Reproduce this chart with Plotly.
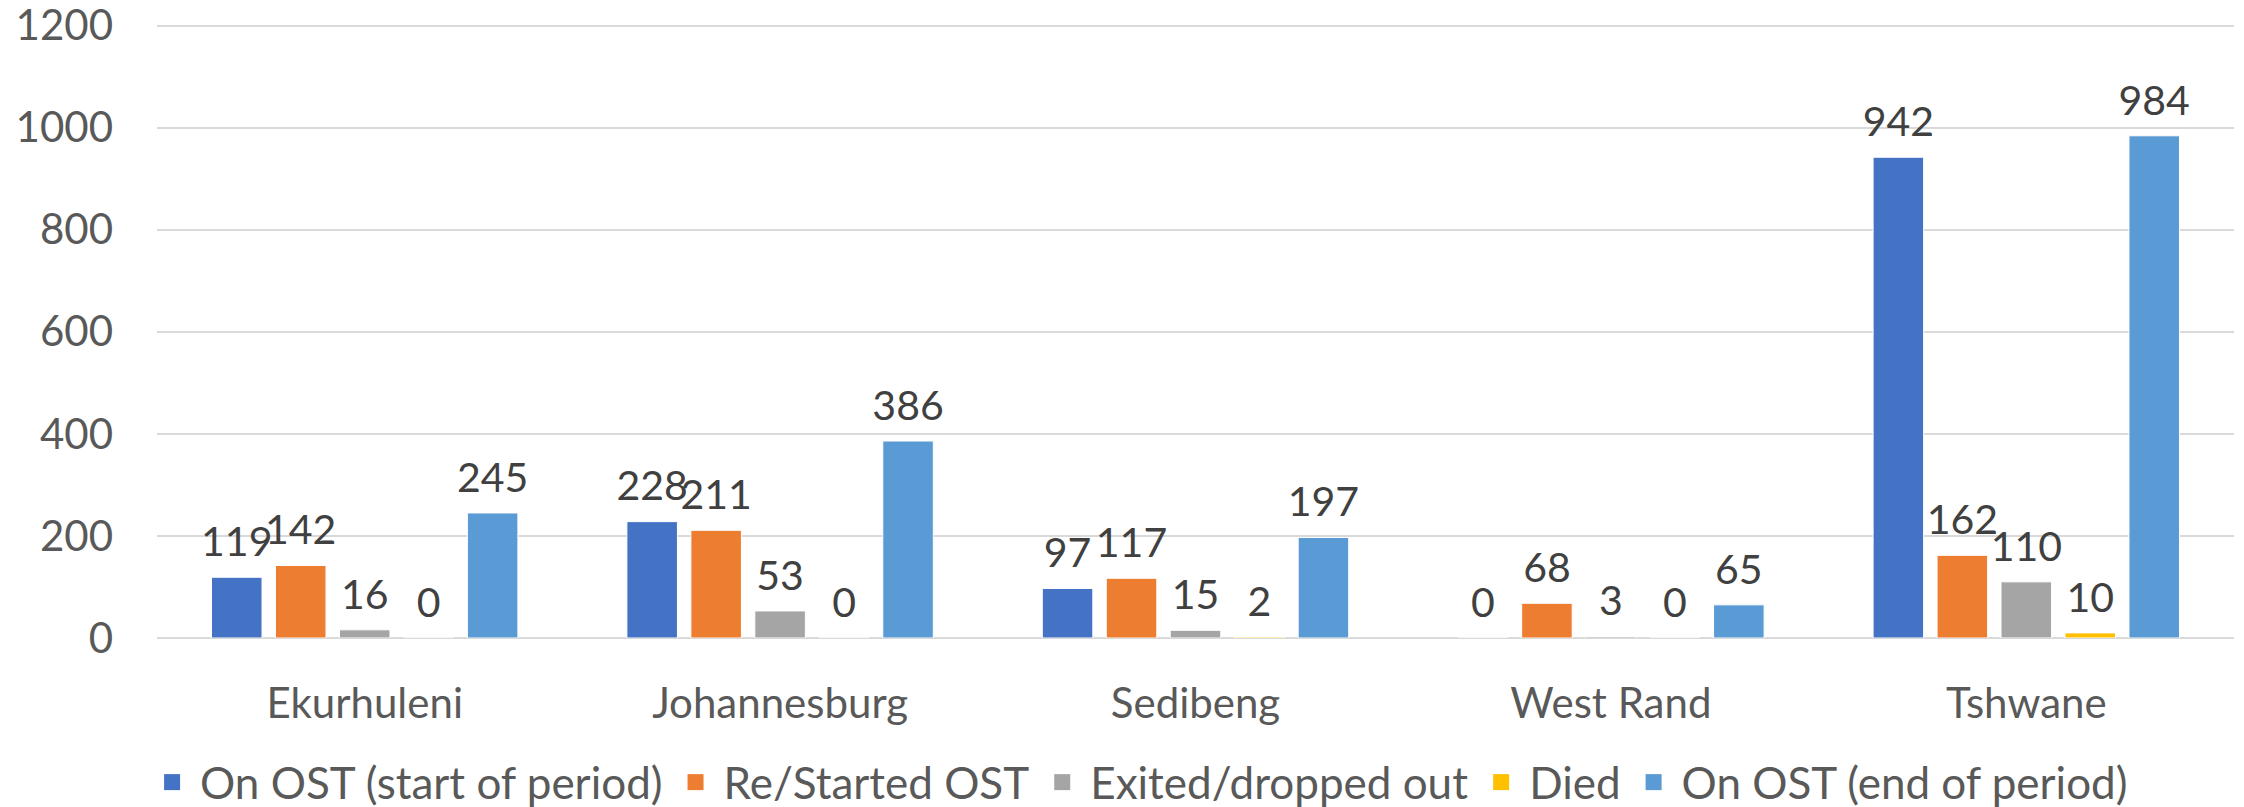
import plotly.graph_objects as go

# districts on the x axis
districts = ['Ekurhuleni', 'Johannesburg', 'Sedibeng', 'West Rand', 'Tshwane']

# one list per series
on_ost_start = [119, 228, 97, 0, 942]
restarted_ost = [142, 211, 117, 68, 162]
exited = [16, 53, 15, 3, 110]
died = [0, 0, 2, 0, 10]
on_ost_end = [245, 386, 197, 65, 984]

series_names = [
    'On OST (start of period)',
    'Re/Started OST',
    'Exited/dropped out',
    'Died',
    'On OST (end of period)',
]
series_values = [on_ost_start, restarted_ost, exited, died, on_ost_end]
colours = ['#4472C4', '#ED7D31', '#A5A5A5', '#FFC000', '#5B9BD5']

y_ticks = [0, 200, 400, 600, 800, 1000, 1200]

FONT = 'Lato'
BAR_GAP = 0.23

fig = go.Figure()

for i, (name, vals, col) in enumerate(zip(series_names, series_values, colours)):
    fig.add_trace(
        go.Bar(
            x=districts,
            y=vals,
            name=name,
            marker=dict(color=col, line=dict(color='white', width=1)),
            offsetgroup=str(i),
            alignmentgroup='bars',
            showlegend=False,
        )
    )

# data labels sit above the bars, grouped the same way as the bars
for i, vals in enumerate(series_values):
    fig.add_trace(
        go.Scatter(
            x=districts,
            y=vals,
            mode='markers+text',
            text=[str(v) for v in vals],
            textposition='top center',
            textfont=dict(family=FONT, size=41, color='#404040'),
            marker=dict(size=16, color='rgba(0,0,0,0)'),
            offsetgroup=str(i),
            alignmentgroup='labels',
            cliponaxis=False,
            showlegend=False,
            hoverinfo='skip',
        )
    )

# legend entries with bigger square swatches
for name, col in zip(series_names, colours):
    fig.add_trace(
        go.Scatter(
            x=[None],
            y=[None],
            mode='markers',
            name=name,
            marker=dict(symbol='square', size=16, color=col),
        )
    )

# the page body adds an 8px offset, so the margins are shifted to match
fig.update_layout(
    width=2244,
    height=807,
    margin=dict(l=149, r=18, t=15, b=177, autoexpand=False),
    paper_bgcolor='white',
    plot_bgcolor='white',
    barmode='group',
    bargap=BAR_GAP,
    bargroupgap=0.21,
    scattermode='group',
    scattergap=BAR_GAP,
    font=dict(family=FONT, size=42, color='#595959'),
    legend=dict(
        orientation='h',
        x=0.4726,
        xanchor='center',
        y=-0.235,
        yanchor='middle',
        font=dict(family=FONT, size=44, color='#595959'),
        itemsizing='trace',
        itemwidth=46,
    ),
)

fig.update_yaxes(
    range=[0, 1205],
    tickvals=y_ticks,
    showgrid=True,
    gridcolor='#D9D9D9',
    gridwidth=2,
    zeroline=True,
    zerolinecolor='#D9D9D9',
    zerolinewidth=2,
    showline=False,
    automargin=False,
    ticklabeloverflow='allow',
    ticklabelstandoff=43,
    tickfont=dict(family=FONT, size=42, color='#595959'),
)
fig.update_xaxes(
    showgrid=False,
    showline=False,
    automargin=False,
    ticklabelstandoff=37,
    tickfont=dict(family=FONT, size=42, color='#595959'),
)

fig.write_html('out.html')
